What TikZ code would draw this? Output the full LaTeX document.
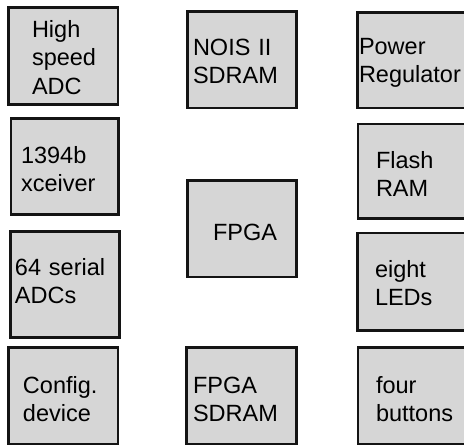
\documentclass[tikz,border=0pt]{standalone}
\usepackage{fontspec}
\setmainfont{Liberation Sans}
\usepackage{tikz}
\definecolor{bdgray}{HTML}{D6D6D6}
\definecolor{bdink}{HTML}{141414}
\hyphenpenalty=10000

\begin{document}
\begin{tikzpicture}[
  x=1pt, y=-1pt,
  font=\fontsize{23.5}{28.5}\selectfont,
  blk/.style={draw=bdink, line width=2.5pt, fill=bdgray, anchor=north west,
    outer sep=0pt, inner ysep=0pt, align=left},
  ]
  \useasboundingbox (0,0) rectangle (464,445);
  \clip (0,0) rectangle (464,445);

  % left column
  \node[blk, minimum width=109.5pt, minimum height=97.2pt, inner xsep=23.5pt,
    text width=62.5pt, text height=29.7pt, text depth=67.5pt] (hsadc) at (8.5,7.3)
    {High\\speed\\ADC};
  \node[blk, minimum width=107.5pt, minimum height=96pt, inner xsep=10pt,
    text width=87.5pt, text height=44.5pt, text depth=51.5pt] (xcvr) at (11,118.5)
    {1394b\\xceiver};
  \node[blk, minimum width=109pt, minimum height=106pt, inner xsep=4.5pt,
    text width=100pt, text height=43.7pt, text depth=62.3pt] (sadc) at (10.5,231.3)
    {64 serial\\ADCs};
  \node[blk, minimum width=109.5pt, minimum height=96.7pt, inner xsep=14.5pt,
    text width=80.5pt, text height=45.7pt, text depth=51pt] (cfg) at (8.5,347.3)
    {Config.\\device};

  % middle column
  \node[blk, minimum width=109pt, minimum height=96.7pt, inner xsep=5.7pt,
    text width=97.6pt, text height=43.7pt, text depth=53pt] (nois) at (187.3,11.3)
    {NOIS II\\SDRAM};
  \node[blk, minimum width=109pt, minimum height=96.3pt, inner xsep=25.7pt,
    text width=57.6pt, text height=59.3pt, text depth=37pt] (fpga) at (187.3,180.7)
    {FPGA};
  \node[blk, minimum width=109.6pt, minimum height=96.7pt, inner xsep=6.3pt,
    text width=97pt, text height=45.7pt, text depth=51pt] (fsdram) at (186.7,347.3)
    {FPGA\\SDRAM};

  % right column (cut off by the page edge)
  \node[blk, minimum width=109.7pt, minimum height=95.7pt, inner xsep=1.7pt,
    text width=106.3pt, text height=41.7pt, text depth=54pt] (pwr) at (357.3,12.3)
    {Power\\Regulator};
  \node[blk, minimum width=109pt, minimum height=94.7pt, inner xsep=18pt,
    text width=73pt, text height=44pt, text depth=50.7pt] (flash) at (358,124)
    {Flash\\RAM};
  \node[blk, minimum width=109.7pt, minimum height=97.3pt, inner xsep=17.7pt,
    text width=74.3pt, text height=44pt, text depth=53.3pt] (leds) at (357.3,233)
    {eight\\LEDs};
  \node[blk, minimum width=109pt, minimum height=96.7pt, inner xsep=18pt,
    text width=73pt, text height=45.7pt, text depth=51pt] (btns) at (358,347.3)
    {four\\buttons};
\end{tikzpicture}
\end{document}
